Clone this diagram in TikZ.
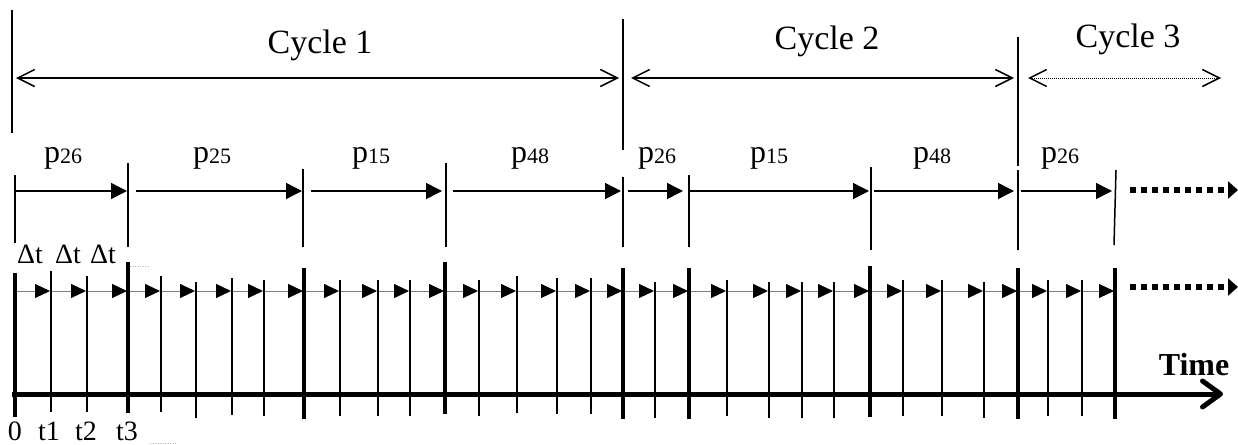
\documentclass[tikz,border=0pt]{standalone}
\usepackage{fontspec}
\setmainfont{Liberation Serif}
\usetikzlibrary{arrows.meta}
\begin{document}
\begin{tikzpicture}[x=1pt,y=-1pt,
  divider/.style={line width=1.5pt},
  cycarrow/.style={line width=1.5pt,{Straight Barb[length=17pt,width=17pt]}-{Straight Barb[length=17pt,width=17pt]}},
  cycdot/.style={line width=1pt,dash pattern=on 1pt off 1pt,{Straight Barb[length=17pt,width=17pt,line width=1.5pt]}-{Straight Barb[length=17pt,width=17pt,line width=1.5pt]}},
  segline/.style={line width=1.5pt},
  segarrow/.style={line width=1.5pt,-{Triangle[length=16pt,width=16pt]}},
  thicktick/.style={line width=4pt},
  thintick/.style={line width=1.8pt},
  dtarrow/.style={draw=gray,line width=0.9pt,-{Triangle[length=15pt,width=14pt,color=black]}},
  moredots/.style={line width=6pt,dash pattern=on 6pt off 5pt,-{Triangle[length=10pt,width=17pt]}},
  timeaxis/.style={line width=5pt,-{Straight Barb[length=18pt,width=26pt,round]}},
  cyclab/.style={font=\fontsize{34}{40}\selectfont,inner sep=0pt,anchor=base},
  plab/.style={font=\fontsize{32}{38}\selectfont,inner sep=0pt,anchor=base},
  dtlab/.style={font=\fontsize{28}{32}\selectfont,inner sep=0pt,anchor=base},
  tlab/.style={font=\fontsize{28}{32}\selectfont,inner sep=0pt,anchor=base,text depth=0pt},
  faint/.style={draw=gray!60,line width=0.8pt,dash pattern=on 1pt off 1.5pt}
]
\useasboundingbox (0,0) rectangle (1238,444);
\newcommand{\psub}[1]{p\raisebox{-0.06em}{\fontsize{22}{24}\selectfont #1}}

% ---------- cycles ----------
\draw[divider] (12,10) -- (12,133);
\draw[divider] (623,19) -- (623,150);
\draw[divider] (1018,37) -- (1018,166);
\coordinate (c1a) at (16,78); \coordinate (c1b) at (619,78);
\coordinate (c2a) at (631,78); \coordinate (c2b) at (1014,78);
\coordinate (c3a) at (1028,78); \coordinate (c3b) at (1221,78);
\draw[cycarrow] (c1a) -- (c1b);
\draw[cycarrow] (c2a) -- (c2b);
\draw[cycdot] (c3a) -- (c3b);
\node[cyclab] (cy1) at (320,53) {Cycle 1};
\node[cyclab] (cy2) at (827,50) {Cycle 2};
\node[cyclab] (cy3) at (1128,48) {Cycle 3};

% ---------- phases ----------
\draw[segline] (15,175) -- (15,243);
\draw[segline] (128,163) -- (128,247);
\draw[segline] (303,169) -- (303,247);
\draw[segline] (446,163) -- (446,247);
\draw[segline] (623,177) -- (623,247);
\draw[segline] (689,175) -- (689,247);
\draw[segline] (871,167) -- (871,250);
\draw[segline] (1018,170) -- (1018,250);
\draw[segline] (1116,170) -- (1114,245);
\draw[segarrow] (15,191) -- (127,191);
\draw[segarrow] (136,191) -- (302,191);
\draw[segarrow] (311,191) -- (442,191);
\draw[segarrow] (453,191) -- (621,191);
\draw[segarrow] (628,191) -- (683,191);
\draw[segarrow] (690,191) -- (869,191);
\draw[segarrow] (874,191) -- (1014,191);
\draw[segarrow] (1021,191) -- (1112,191);
\draw[moredots] (1130,190) -- (1238,190);
\node[plab] (pa) at (63,162) {\psub{26}};
\node[plab] (pb) at (212,162) {\psub{25}};
\node[plab] (pc) at (371,162) {\psub{15}};
\node[plab] (pd) at (530,162) {\psub{48}};
\node[plab] (pe) at (657,162) {\psub{26}};
\node[plab] (pf) at (769,162) {\psub{15}};
\node[plab] (pg) at (932,162) {\psub{48}};
\node[plab] (ph) at (1060,162) {\psub{26}};

% ---------- time steps ----------
\node[dtlab] (d1) at (30,263) {Δt};
\node[dtlab] (d2) at (68,263) {Δt};
\node[dtlab] (d3) at (103,263) {Δt};
\draw[faint] (130,266) -- (150,266);
\draw[faint] (150,443) -- (177,443);

\foreach \a/\b in {15/51,51/87,87/128,128/161,161/196,196/232,232/264,264/304,304/340,340/378,378/410,410/445,445/479,479/517,517/557,557/591,591/623,623/655,655/689,689/727,727/769,769/802,802/834,834/870,870/903,903/942,942/984,984/1018,1018/1048,1048/1082,1082/1115}
  \draw[dtarrow] (\a,291) -- (\b-1,291);
\draw[moredots] (1130,287) -- (1238,287);

\foreach \x/\t/\b in {15/273/417,128/262/413,304/268/419,445/262/414,623/268/419,689/268/419,870/266/417,1018/268/419,1115/268/419}
  \draw[thicktick] (\x,\t) -- (\x,\b);
\foreach \x/\t/\b in {51/271/412,87/276/412,161/276/412,196/282/418,232/278/415,264/280/416,340/280/416,378/280/416,410/280/416,479/280/416,517/276/413,557/278/414,591/278/414,655/282/418,727/280/416,769/282/418,802/282/418,834/282/418,903/280/416,942/280/416,984/282/418,1048/280/416,1082/280/416}
  \draw[thintick] (\x,\t) -- (\x,\b);

% ---------- axis ----------
\coordinate (ax0) at (12,394);
\coordinate (ax1) at (1223,394);
\draw[timeaxis] (ax0) -- (ax1);
\node[cyclab,font=\fontsize{32}{38}\selectfont\bfseries] (time) at (1194,375) {Time};
\node[tlab] (l0) at (15,440) {0};
\node[tlab] (l1) at (49,440) {t1};
\node[tlab] (l2) at (86,440) {t2};
\node[tlab] (l3) at (127,440) {t3};
\end{tikzpicture}
\end{document}
